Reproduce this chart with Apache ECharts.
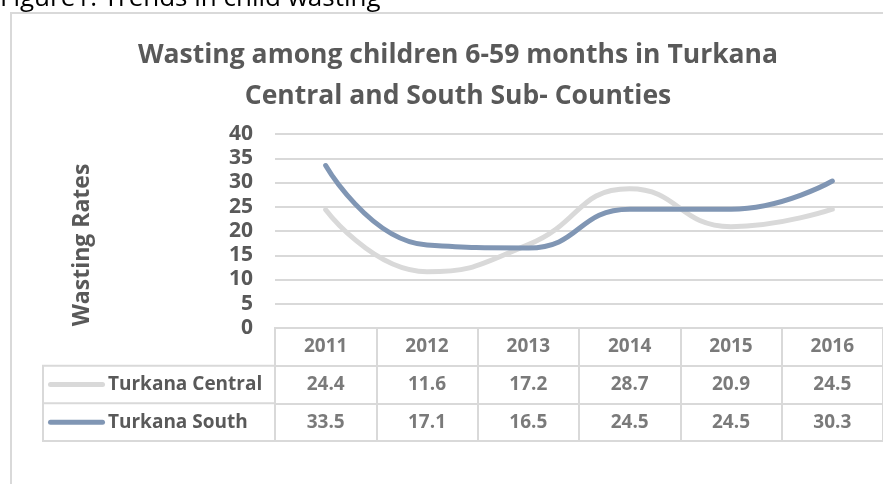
<!DOCTYPE html>
<html><head><meta charset="utf-8">
<script src="https://cdn.jsdelivr.net/npm/echarts@6/dist/echarts.min.js"></script>
<style>html,body{margin:0;padding:0;background:#fff}#c{width:883px;height:484px}</style>
</head><body><div id="c"></div>
<script>
const years = ['2011','2012','2013','2014','2015','2016'];
const seriesNames = ['Turkana Central','Turkana South'];
const central = [24.4, 11.6, 17.2, 28.7, 20.9, 24.5];
const south = [33.5, 17.1, 16.5, 24.5, 24.5, 30.3];
const yTicks = {min: 0, max: 40, interval: 5};
const yAxisTitle = 'Wasting Rates';
const colors = ['#d9d9d9', '#8096b4'];

const FONT = 'Open Sans';
const TXT = '#595959';
const GL = 275, GW = 611, GT = 134, GH = 194;
const TH = 113;
const rowH = TH / 3;

const rows = ['', seriesNames[0], seriesNames[1]];
const tableData = [];
years.forEach((y, i) => tableData.push({value: [i, 0], label: {formatter: y}}));
[central, south].forEach((arr, r) => arr.forEach((v, i) => tableData.push({value: [i, r + 1], label: {formatter: v.toFixed(1)}})));

const chart = echarts.init(document.getElementById('c'));
chart.setOption({
  animation: false,
  title: {
    text: 'Wasting among children 6-59 months in Turkana\nCentral and South Sub- Counties',
    left: 453, top: 30, textAlign: 'center',
    textStyle: {fontFamily: FONT, fontSize: 26.5, fontWeight: 'bold', color: TXT, lineHeight: 41}
  },
  graphic: [
    {type: 'text', left: 0, top: -14, style: {text: 'Figure1: Trends in child wasting', fontFamily: FONT, fontSize: 26, fill: '#000'}},
    {type: 'rect', shape: {x: 11, y: 13, width: 950, height: 550}, style: {fill: '#fff', stroke: '#d9d9d9', lineWidth: 2}, z: -1},
    {type: 'text', x: 82, y: 245, rotation: Math.PI / 2,
     style: {text: yAxisTitle, fontFamily: FONT, fontSize: 23, fontWeight: 'bold', fill: TXT, align: 'center', verticalAlign: 'middle'}},
    {type: 'rect', shape: {x: 43, y: GT + GH + rowH, width: GL - 43, height: rowH * 2}, style: {fill: 'none', stroke: '#d9d9d9', lineWidth: 2}},
    {type: 'line', shape: {x1: 43, y1: GT + GH + rowH * 2, x2: GL, y2: GT + GH + rowH * 2}, style: {stroke: '#d9d9d9', lineWidth: 2}}
  ],
  grid: [
    {left: GL, top: GT, width: GW, height: GH},
    {left: GL, top: GT + GH, width: GW, height: TH, show: true, borderColor: '#d9d9d9', borderWidth: 2}
  ],
  xAxis: [
    {type: 'category', data: years, gridIndex: 0, boundaryGap: true,
     axisLine: {show: false}, axisTick: {show: false}, axisLabel: {show: false}, splitLine: {show: false}},
    {type: 'category', data: years, gridIndex: 1, boundaryGap: true,
     axisLine: {show: false}, axisTick: {show: false}, axisLabel: {show: false},
     splitLine: {show: true, lineStyle: {color: '#d9d9d9', width: 2}}}
  ],
  yAxis: [
    {type: 'value', gridIndex: 0, min: yTicks.min, max: yTicks.max, interval: yTicks.interval,
     axisLine: {show: false}, axisTick: {show: false},
     axisLabel: {fontFamily: FONT, fontSize: 21, fontWeight: 'bold', color: TXT, margin: 22},
     splitLine: {lineStyle: {color: '#d9d9d9', width: 2}}},
    {type: 'category', data: rows, gridIndex: 1, inverse: true, boundaryGap: true,
     axisLine: {show: false}, axisTick: {show: false},
     splitLine: {show: true, lineStyle: {color: '#d9d9d9', width: 2}},
     axisLabel: {align: 'left', margin: GL - 48,
       formatter: (v, i) => i === 0 ? '' : '{l' + i + '|}{t|' + v + '}',
       rich: {
         l1: {width: 57, height: 5, backgroundColor: colors[0], borderRadius: 3},
         l2: {width: 57, height: 5, backgroundColor: colors[1], borderRadius: 3},
         t: {fontFamily: FONT, fontSize: 19, fontWeight: 'bold', color: TXT, padding: [0, 0, 0, 3]}
       }}}
  ],
  series: [
    {name: seriesNames[0], type: 'line', data: central, xAxisIndex: 0, yAxisIndex: 0, smooth: 0.5,
     showSymbol: false, lineStyle: {color: colors[0], width: 5, cap: 'round'}, itemStyle: {color: colors[0]}},
    {name: seriesNames[1], type: 'line', data: south, xAxisIndex: 0, yAxisIndex: 0, smooth: 0.5,
     showSymbol: false, lineStyle: {color: colors[1], width: 5, cap: 'round'}, itemStyle: {color: colors[1]}},
    {type: 'scatter', xAxisIndex: 1, yAxisIndex: 1, data: tableData, symbolSize: 1, silent: true,
     itemStyle: {color: 'rgba(0,0,0,0)'},
     label: {show: true, position: 'inside', fontFamily: FONT, fontSize: 19, fontWeight: 'bold', color: TXT}}
  ]
});
</script></body></html>
